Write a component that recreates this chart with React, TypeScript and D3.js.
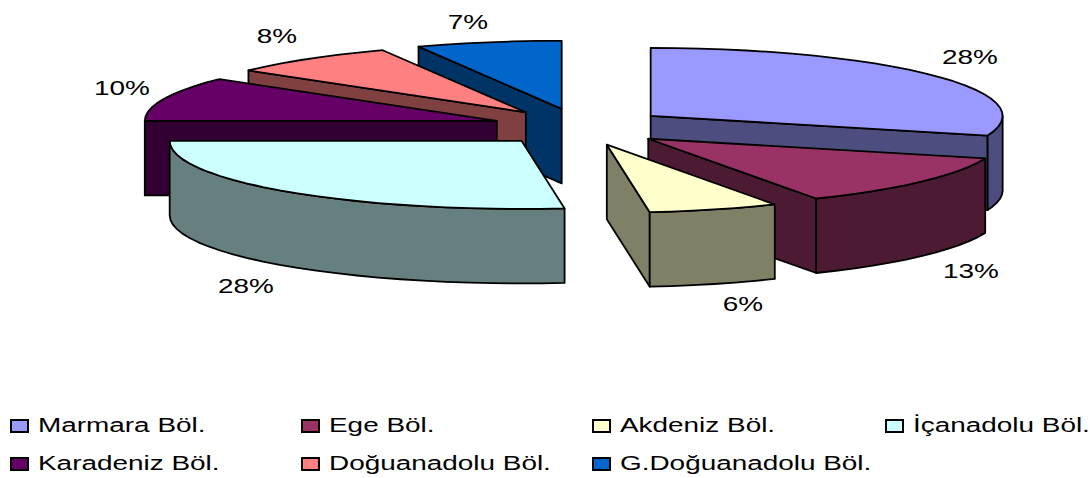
import React from "react";
import * as d3 from "d3";

const categories = ["Marmara Böl.", "Ege Böl.", "Akdeniz Böl.", "İçanadolu Böl.", "Karadeniz Böl.", "Doğuanadolu Böl.", "G.Doğuanadolu Böl."];
const shares = [28, 13, 6, 28, 10, 8, 7];
const topColors = ["#9999FF", "#993366", "#FFFFCC", "#CCFFFF", "#660066", "#FF8080", "#0066CC"];
const wallColors = ["#4D4D80", "#4D1A33", "#808066", "#668080", "#330033", "#804040", "#003366"];

const W = 1090, H = 478;
const cx = 580, cy = 127, rx = 352, ry = 68, depth = 74.5, explodeX = 88, explodeY = 18.6;
const paintOrder = [6, 5, 4, 3, 0, 1, 2];
const labelPos = [[970, 64], [971, 278], [743, 311], [246, 293], [122, 95], [277, 43], [468, 29]];
const legendX = [10, 301, 592, 885];
const legendY = [432, 470];
const stretch = 1.33;

// the 3D view of the pie bends the angles a little: true angle -> drawn angle, in degrees
const view = d3.scaleLinear().domain([0, 100.8, 147.6, 169.2, 270, 306, 334.8, 360]).range([0, 106.8, 151.5, 173, 270, 308, 336, 360]);
const deg = (r: number) => (r * 180) / Math.PI;
const rad = (d: number) => (d * Math.PI) / 180;

const arcs = d3.pie<number>().sort(null).startAngle(0).endAngle(2 * Math.PI)(shares);
const line = d3.line();

type P = [number, number];
function arcPoints(ox: number, oy: number, a0: number, a1: number, dy = 0): P[] {
  const n = Math.max(2, Math.ceil((a1 - a0) / 4));
  return d3.range(n + 1).map((i) => {
    const a = rad(a0 + ((a1 - a0) * i) / n);
    return [ox + rx * Math.sin(a), oy - ry * Math.cos(a) + dy] as P;
  });
}

function Slice({ i }: { i: number }) {
  const d = arcs[i];
  const a0 = view(deg(d.startAngle));
  const a1 = view(deg(d.endAngle));
  const mid = rad((a0 + a1) / 2);
  const ox = cx + explodeX * Math.sin(mid);
  const oy = cy - explodeY * Math.cos(mid);
  const edge = (a: number): P => [ox + rx * Math.sin(rad(a)), oy - ry * Math.cos(rad(a))];
  const wall = (a: number) => {
    const e = edge(a);
    return line([[ox, oy], e, [e[0], e[1] + depth], [ox, oy + depth]] as P[]) + "Z";
  };
  const f0 = Math.max(a0, 90), f1 = Math.min(a1, 270);
  const common = { stroke: "#000", strokeWidth: 1.8, strokeLinejoin: "round" as const };
  return (
    <g>
      {Math.sin(rad(a0)) < -1e-6 && <path d={wall(a0)} fill={wallColors[i]} {...common} />}
      {Math.sin(rad(a1)) > 1e-6 && <path d={wall(a1)} fill={wallColors[i]} {...common} />}
      {f1 > f0 && (
        <path
          d={line([...arcPoints(ox, oy, f0, f1), ...arcPoints(ox, oy, f0, f1, depth).reverse()]) + "Z"}
          fill={wallColors[i]}
          {...common}
        />
      )}
      <path d={line([[ox, oy] as P, ...arcPoints(ox, oy, a0, a1)]) + "Z"} fill={topColors[i]} {...common} />
    </g>
  );
}

const textStyle = { fontFamily: "'Liberation Sans', Arial, sans-serif", fontSize: 21, fill: "#000" };

export default function App() {
  const pct = d3.format(".0f");
  return (
    <svg width={W} height={H} viewBox={`0 0 ${W} ${H}`} style={{ position: "absolute", left: 0, top: 0, background: "#fff" }}>
      {paintOrder.map((i) => (
        <Slice key={i} i={i} />
      ))}
      {shares.map((v, i) => (
        <text key={i} transform={`translate(${labelPos[i][0]},${labelPos[i][1]}) scale(${stretch},1)`} textAnchor="middle" style={textStyle}>
          {pct(v)}%
        </text>
      ))}
      {categories.map((c, i) => {
        const x = legendX[i % 4];
        const y = legendY[Math.floor(i / 4)];
        return (
          <g key={c}>
            <rect x={x + 1} y={y - 12} width={17} height={12} fill={topColors[i]} stroke="#000" strokeWidth={2} />
            <text transform={`translate(${x + 28},${y}) scale(${stretch},1)`} style={textStyle}>
              {c}
            </text>
          </g>
        );
      })}
    </svg>
  );
}
